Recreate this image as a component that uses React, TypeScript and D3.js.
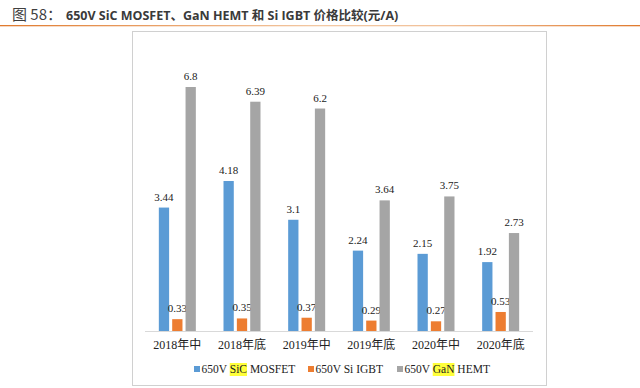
import React, { useRef, useEffect } from 'react';
import * as d3 from 'd3';

const categories = ['2018年中', '2018年底', '2019年中', '2019年底', '2020年中', '2020年底'];
const sicMosfet = [3.44, 4.18, 3.1, 2.24, 2.15, 1.92];
const siIgbt = [0.33, 0.35, 0.37, 0.29, 0.27, 0.53];
const ganHemt = [6.8, 6.39, 6.2, 3.64, 3.75, 2.73];
// legend pieces: [before, highlighted, after]
const seriesNames = [
  ['650V ', 'SiC', ' MOSFET'],
  ['650V Si IGBT', '', ''],
  ['650V ', 'GaN', ' HEMT'],
];
const colors = ['#5b9bd5', '#ed7d31', '#a5a5a5'];

const App = () => {
  const svgRef = useRef<SVGSVGElement>(null);

  useEffect(() => {
    draw();
  }, []);

  const draw = () => {
    const svg = d3.select(svgRef.current);
    svg.selectAll('*').remove();

    const width = 640;
    const height = 388;
    const serif = '"Liberation Serif", "Times New Roman", "Noto Sans CJK SC", serif';
    const sans = '"Open Sans", "Noto Sans CJK SC", sans-serif';

    svg.append('rect').attr('width', width).attr('height', height).attr('fill', '#fff');

    // title
    svg.append('text')
      .attr('x', 12).attr('y', 20)
      .style('font-family', '"Noto Sans CJK SC", sans-serif')
      .style('font-size', '15px')
      .attr('fill', '#3f3f3f')
      .text('图 58：');
    svg.append('text')
      .attr('x', 66).attr('y', 20)
      .style('font-family', sans)
      .style('font-size', '12.5px')
      .style('font-weight', 'bold')
      .attr('fill', '#3a3a3a')
      .text('650V SiC MOSFET、GaN HEMT 和 Si IGBT 价格比较(元/A)');

    const grad = svg.append('defs').append('linearGradient').attr('id', 'tl');
    grad.append('stop').attr('offset', '0').attr('stop-color', '#e07a2e');
    grad.append('stop').attr('offset', '0.5').attr('stop-color', '#f3c9a4');
    grad.append('stop').attr('offset', '0.7').attr('stop-color', '#f1c098');
    grad.append('stop').attr('offset', '1').attr('stop-color', '#e07a2e');
    svg.append('rect').attr('x', 0).attr('y', 25).attr('width', width).attr('height', 1.3).attr('fill', 'url(#tl)');

    // frame
    svg.append('rect')
      .attr('x', 132.5).attr('y', 31.5).attr('width', 414).attr('height', 354)
      .attr('fill', 'none').attr('stroke', '#d0d0d0').attr('stroke-width', 1);

    const x0 = d3.scaleBand().domain(categories).range([145, 533]);
    const x1 = d3.scaleBand().domain(['0', '1', '2']).range([-18.5, 18.5]).paddingInner(0.23);
    const y = d3.scaleLinear().domain([0, 6.8]).range([331, 87]);

    const series = [sicMosfet, siIgbt, ganHemt];

    const g = svg.append('g');
    series.forEach((vals, si) => {
      vals.forEach((v, ci) => {
        const cx = x0(categories[ci])! + x0.bandwidth() / 2;
        const bx = cx + x1(String(si))!;
        g.append('rect')
          .attr('x', bx).attr('y', y(v))
          .attr('width', x1.bandwidth()).attr('height', y(0) - y(v))
          .attr('fill', colors[si]);
        g.append('text')
          .attr('x', bx + x1.bandwidth() / 2 + (si === 1 ? 0 : 0))
          .attr('y', y(v) - 7)
          .attr('text-anchor', 'middle')
          .style('font-family', serif)
          .style('font-size', '11px')
          .attr('fill', '#222')
          .text(String(v));
      });
    });

    // baseline
    svg.append('line')
      .attr('x1', 145).attr('x2', 533).attr('y1', 331.5).attr('y2', 331.5)
      .attr('stroke', '#d9d9d9').attr('stroke-width', 1);

    // category labels
    categories.forEach(c => {
      svg.append('text')
        .attr('x', x0(c)! + x0.bandwidth() / 2)
        .attr('y', 349)
        .attr('text-anchor', 'middle')
        .style('font-family', serif)
        .style('font-size', '12px')
        .attr('fill', '#222')
        .text(c);
    });

    // legend
    const legendX = [194, 308, 397];
    seriesNames.forEach((parts, i) => {
      const lg = svg.append('g');
      lg.append('rect')
        .attr('x', legendX[i]).attr('y', 366)
        .attr('width', 6).attr('height', 6)
        .attr('fill', colors[i]);
      let cx = legendX[i] + 7.5;
      parts.forEach((p, pi) => {
        if (!p) return;
        const t = lg.append('text')
          .attr('x', cx).attr('y', 373)
          .style('font-family', serif)
          .style('font-size', '11.5px')
          .style('white-space', 'pre')
          .attr('fill', '#222')
          .text(p);
        const w = (t.node() as SVGTextElement).getComputedTextLength();
        if (pi === 1) {
          lg.insert('rect', 'text')
            .attr('x', cx).attr('y', 363)
            .attr('width', w).attr('height', 13)
            .attr('fill', '#ffff3a');
        }
        cx += w;
      });
    });
  };

  return (
    <svg ref={svgRef} width={640} height={388}
      style={{ position: 'absolute', left: 0, top: 0, display: 'block' }}></svg>
  );
};

export default App;
